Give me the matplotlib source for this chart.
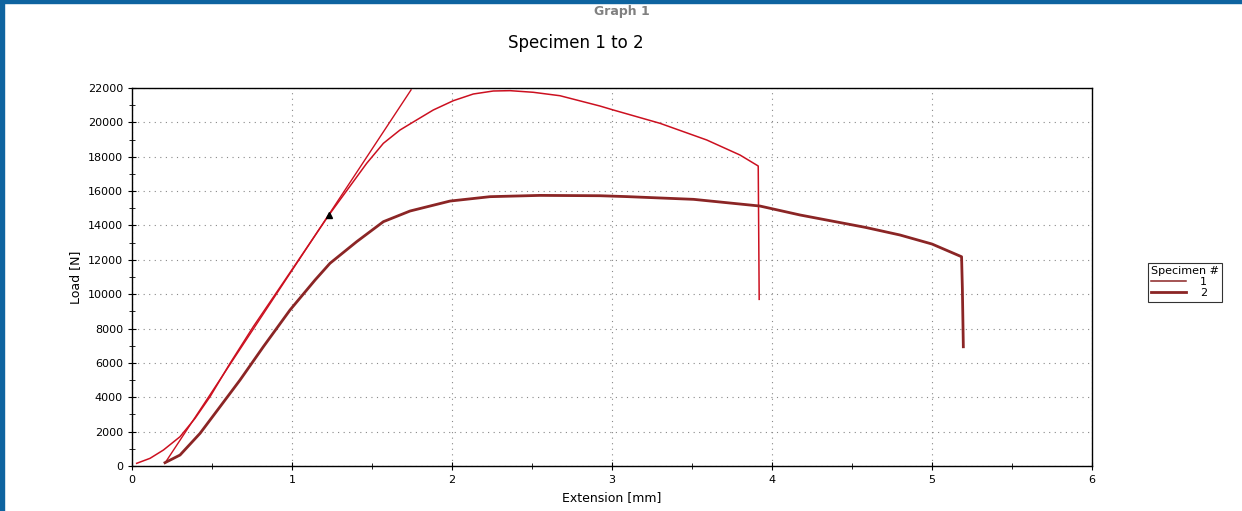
import matplotlib
matplotlib.use("Agg")
import matplotlib.pyplot as plt
from matplotlib.patches import Rectangle
from matplotlib.ticker import MultipleLocator

# specimen 1 (thin red)
ext1 = [0.029, 0.1125, 0.196, 0.3, 0.394, 0.4875, 0.6125, 0.758, 0.956, 1.23, 1.467, 1.571,
        1.675, 1.779, 1.883, 2.008, 2.133, 2.258, 2.3625, 2.508, 2.675, 2.925, 3.008,
        3.3, 3.592, 3.8, 3.914, 3.92]
load1 = [157, 448, 930, 1706, 2775, 4035, 5975, 8110, 10825, 14600, 17620, 18780,
         19555, 20140, 20720, 21260, 21650, 21825, 21845, 21750, 21550, 20950, 20720,
         19945, 18975, 18100, 17460, 9700]

# specimen 2 (thick dark red)
ext2 = [0.206, 0.3, 0.425, 0.55, 0.675, 0.821, 0.9875, 1.144, 1.2375, 1.404, 1.571, 1.7375,
        1.9875, 2.2375, 2.55, 2.925, 3.09, 3.51, 3.925, 4.175, 4.583, 4.8, 5.0, 5.185,
        5.19, 5.196]
load2 = [194, 640, 1900, 3450, 5005, 6945, 9080, 10825, 11800, 13055, 14220, 14840,
         15420, 15675, 15750, 15730, 15680, 15520, 15130, 14610, 13890, 13445, 12920, 12180,
         10330, 6940]

# modulus tangent line and yield marker
tan_x = [0.206, 1.744]
tan_y = [175, 21890]
yield_pt = (1.23, 14600)

fig = plt.figure(figsize=(12.42, 5.11), dpi=100)
ax = fig.add_axes([0.1063, 0.088, 0.7729, 0.7398])

ax.plot(tan_x, tan_y, color="#cc1020", lw=1.0)
ax.plot(ext1, load1, color="#cc1020", lw=1.1, label="1")
ax.plot(ext2, load2, color="#8b2525", lw=2.0, label="2")
ax.plot(*yield_pt, marker="^", color="black", ms=5)

ax.set_xlim(0, 6)
ax.set_ylim(0, 22000)
ax.xaxis.set_major_locator(MultipleLocator(1))
ax.xaxis.set_minor_locator(MultipleLocator(0.5))
ax.yaxis.set_major_locator(MultipleLocator(2000))
ax.yaxis.set_minor_locator(MultipleLocator(1000))
ax.grid(True, which="major", color="#888888", linestyle=(0, (1, 4)), lw=0.8)
ax.tick_params(which="both", direction="inout", labelsize=8, colors="black")
ax.tick_params(which="major", length=6)
ax.tick_params(which="minor", length=5)
for s in ax.spines.values():
    s.set_linewidth(1.0)
ax.set_xlabel("Extension [mm]", fontsize=9)
ax.set_ylabel("Load [N]", fontsize=9)

fig.text(0.5008, 0.978, "Graph 1", ha="center", va="center", fontsize=9,
         color="#808080", fontweight="bold")
fig.text(0.4638, 0.916, "Specimen 1 to 2", ha="center", va="center", fontsize=12)

leg = fig.legend(title="Specimen #", loc="center", bbox_to_anchor=(0.954, 0.448),
                 fontsize=8, title_fontsize=8, frameon=True, fancybox=False,
                 edgecolor="black", handlelength=3.2, borderpad=0.3,
                 labelspacing=0.1, handletextpad=1.2)
leg.get_frame().set_linewidth(0.8)
leg._legend_box.align = "left"
for h in leg.legend_handles:
    h.set_color("#8b2525")

# window frame
fig.patches.append(Rectangle((0, 0), 4 / 1242, 1, transform=fig.transFigure,
                             color="#0e64a0", zorder=5))
fig.patches.append(Rectangle((0, 1 - 3 / 511), 1, 3 / 511, transform=fig.transFigure,
                             color="#0e64a0", zorder=5))

fig.savefig("out.png", dpi=100)
